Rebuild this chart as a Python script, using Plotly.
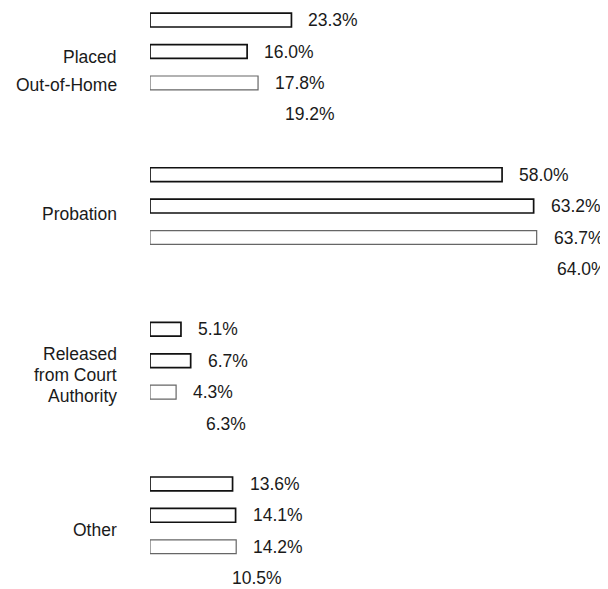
import plotly.graph_objects as go

categories = ["Placed Out-of-Home", "Probation", "Released from Court Authority", "Other"]
category_lines = [["Placed", "Out-of-Home"], ["Probation"], ["Released", "from Court", "Authority"], ["Other"]]
series_1 = [23.3, 58.0, 5.1, 13.6]
series_2 = [16.0, 63.2, 6.7, 14.1]
series_3 = [17.8, 63.7, 4.3, 14.2]
series_4 = [19.2, 64.0, 6.3, 10.5]
all_series = [series_1, series_2, series_3, series_4]

FONT = "Liberation Sans, Arial, Helvetica, sans-serif"
TXT = "#1a1a1a"
FS = 17.5

styles = [
    dict(fill="white", line="#111111", lw=1.7),
    dict(fill="white", line="#111111", lw=1.7),
    dict(fill="white", line="#666666", lw=1.2),
    dict(fill="rgba(0,0,0,0)", line="rgba(0,0,0,0)", lw=0),
]

fig = go.Figure()
for vals, st in zip(all_series, styles):
    fig.add_trace(go.Bar(
        y=categories, x=vals, orientation="h",
        marker=dict(color=st["fill"], line=dict(color=st["line"], width=st["lw"])),
        hoverinfo="skip", showlegend=False,
    ))

slot_px = 31.4
label_xshift = [15, 15, 15, 16]
annotations = []
for k, vals in enumerate(all_series):
    for cat, v in zip(categories, vals):
        annotations.append(dict(
            x=v, y=cat, xref="x", yref="y", text=f"{v:.1f}%",
            showarrow=False, xanchor="left", yanchor="middle",
            xshift=label_xshift[k], yshift=-(k - 1.5) * slot_px,
            font=dict(family=FONT, size=FS, color=TXT),
        ))

# vertical offsets (px, downward from group centre) of each category text line
cat_line_offsets = [[-10.5, 17.5], [-8], [-22, -1.5, 19.5], [-1]]
for cat, lines, offs in zip(categories, category_lines, cat_line_offsets):
    for line, off in zip(lines, offs):
        annotations.append(dict(
            x=0, y=cat, xref="paper", yref="y", text=line,
            showarrow=False, xanchor="right", yanchor="middle",
            xshift=-31, yshift=-off,
            font=dict(family=FONT, size=FS, color=TXT),
        ))

fig.update_layout(
    width=600, height=581,
    margin=dict(l=142, r=0, t=0, b=0),
    paper_bgcolor="white", plot_bgcolor="white",
    barmode="group", bargap=0.187, bargroupgap=0.56,
    annotations=annotations,
    xaxis=dict(range=[0, 75.45], showgrid=False, zeroline=False, showline=False,
               showticklabels=False, ticks=""),
    yaxis=dict(range=[3.375, -0.383], showgrid=False, zeroline=False, showline=False,
               ticks="", showticklabels=False),
)

fig.write_html("out.html")
